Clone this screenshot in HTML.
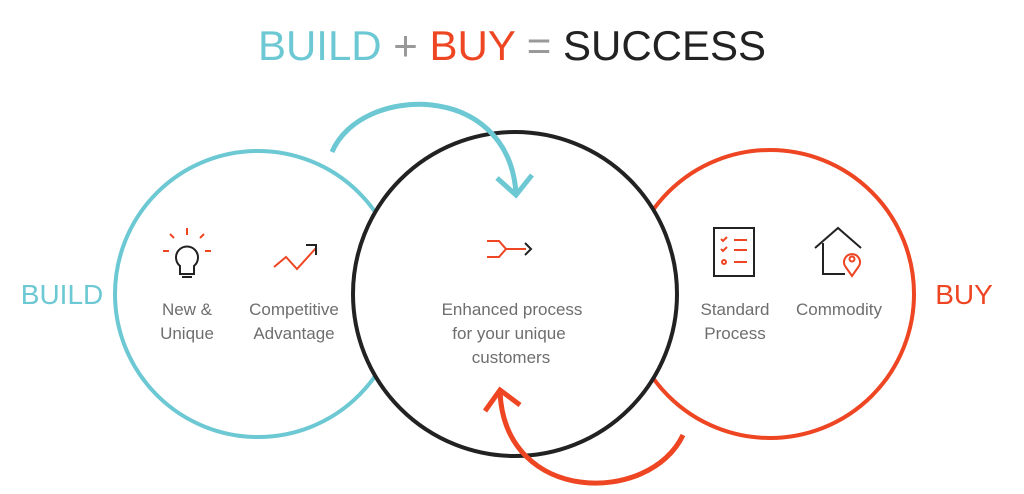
<!DOCTYPE html>
<html><head><style>
body{margin:0;width:1024px;height:494px;background:#fff;overflow:hidden;font-family:"Liberation Sans",sans-serif;}
svg{position:absolute;left:0;top:0}
</style></head><body>
<svg width="1024" height="494" viewBox="0 0 1024 494">
<g font-family="Liberation Sans, sans-serif">
<text x="512" y="60" text-anchor="middle" font-size="42"><tspan fill="#6cc8d3">BUILD</tspan><tspan fill="#999"> + </tspan><tspan fill="#ee4523">BUY</tspan><tspan fill="#999"> = </tspan><tspan fill="#222">SUCCESS</tspan></text>
<text x="62" y="304" text-anchor="middle" font-size="28" fill="#6cc8d3">BUILD</text>
<text x="964" y="304" text-anchor="middle" font-size="28" fill="#ee4523">BUY</text>
</g>
<circle cx="258" cy="294" r="143" fill="none" stroke="#6cc8d3" stroke-width="4"/>
<circle cx="770" cy="294" r="144" fill="none" stroke="#ee4523" stroke-width="4"/>
<circle cx="515" cy="294" r="162" fill="#fff" stroke="#222" stroke-width="4"/>
<!-- teal arrow -->
<path d="M332 152 C360 85, 508 80, 516 193" fill="none" stroke="#6cc8d3" stroke-width="5"/>
<path d="M497 178 L516 195 L532 175" fill="none" stroke="#6cc8d3" stroke-width="5"/>
<!-- orange arrow -->
<path d="M683 435 C650 505, 505 505, 500 392" fill="none" stroke="#ee4523" stroke-width="5"/>
<path d="M485 411 L500 390 L520 405" fill="none" stroke="#ee4523" stroke-width="5"/>
<g fill="none" stroke-width="2">
<g stroke="#ee4523"><path d="M187 228v7M170 234l4 4M204 234l-4 4M163 251h6M205 251h6"/></g>
<g stroke="#222"><path d="M180 266 a11 11 0 1 1 14 0 v8 h-14z M182 277h10"/></g>
<path d="M274 267l12-10 11 12 19-21" stroke="#ee4523"/>
<path d="M306 245h10v10" stroke="#222"/>
<path d="M487 241h12l7 8-7 8h-12M506 249h20" stroke="#ee4523"/>
<path d="M525 243l6 6-6 6" stroke="#222"/>
<rect x="714" y="228" width="40" height="48" stroke="#222"/>
<path d="M721 239l2 2 4-4M721 249l2 2 4-4M734 240h13M734 250h13M734 262h13" stroke="#ee4523"/>
<circle cx="724" cy="262" r="2" stroke="#ee4523"/>
<path d="M815 248l23-20 23 20M823 243v31h22" stroke="#222"/>
<path d="M852 276 l-7-10 a8 8 0 1 1 14 0z" stroke="#ee4523"/>
<circle cx="852" cy="259" r="2.5" stroke="#ee4523"/>
</g>
<g font-family="Liberation Sans, sans-serif" font-size="17" fill="#6e6e6e" text-anchor="middle">
<text x="187" y="315">New &amp;</text><text x="187" y="339">Unique</text>
<text x="294" y="315">Competitive</text><text x="294" y="339">Advantage</text>
<text x="512" y="315">Enhanced process</text><text x="509" y="339">for your unique</text><text x="511" y="363">customers</text>
<text x="735" y="315">Standard</text><text x="735" y="339">Process</text>
<text x="839" y="315">Commodity</text>
</g>
</svg>
</body></html>
